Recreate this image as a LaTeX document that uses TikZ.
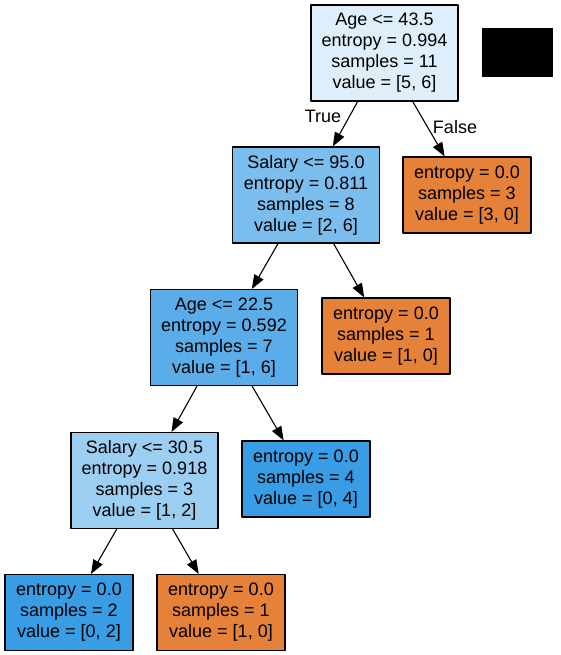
\documentclass[tikz,border=0pt]{standalone}
\usepackage{fontspec}
\setmainfont{Liberation Sans}
\usetikzlibrary{%
	arrows.meta,%
	positioning%
}
\definecolor{splitA}{HTML}{DEEFFB}
\definecolor{splitB}{HTML}{7BBEEE}
\definecolor{splitC}{HTML}{5AADE9}
\definecolor{splitD}{HTML}{9CCEF2}
\definecolor{leafblue}{HTML}{399DE5}
\definecolor{leaforange}{HTML}{E58139}

\begin{document}
\begin{tikzpicture}[
x=1pt,y=-1pt,
>={Triangle[length=14pt,width=10.5pt]},
line width=1.1pt,line join=round,
font=\fontsize{18}{21}\selectfont,
split/.style={rectangle,draw,align=center,inner sep=0pt,
minimum width=147pt,minimum height=96pt},
leaf/.style={rectangle,draw,align=center,inner sep=0pt,
minimum width=128pt,minimum height=76pt},
edgelabel/.style={inner sep=0pt}
]
\useasboundingbox (0,0) rectangle (560,655);

% split nodes
\node [split,fill=splitA] (root)   at (384.5,53)  {Age <= 43.5\\entropy = 0.994\\samples = 11\\value = [5, 6]};
\node [split,fill=splitB] (salA)   at (306,195)   {Salary <= 95.0\\entropy = 0.811\\samples = 8\\value = [2, 6]};
\node [split,fill=splitC] (ageB)   at (224,337.5) {Age <= 22.5\\entropy = 0.592\\samples = 7\\value = [1, 6]};
\node [split,fill=splitD] (salC)   at (144.5,480.5) {Salary <= 30.5\\entropy = 0.918\\samples = 3\\value = [1, 2]};

% leaves
\node [leaf,fill=leaforange] (leafF)  at (467,195)   {entropy = 0.0\\samples = 3\\value = [3, 0]};
\node [leaf,fill=leaforange] (leafS1) at (386,336)   {entropy = 0.0\\samples = 1\\value = [1, 0]};
\node [leaf,fill=leafblue]   (leafS4) at (306,479)   {entropy = 0.0\\samples = 4\\value = [0, 4]};
\node [leaf,fill=leafblue]   (leafL)  at (69,612.5)  {entropy = 0.0\\samples = 2\\value = [0, 2]};
\node [leaf,fill=leaforange] (leafR)  at (221,612.5) {entropy = 0.0\\samples = 1\\value = [1, 0]};

% masked box
\fill (482,28) rectangle (553,77);

% edges
\begin{scope}[->]
\draw (root) -- (salA);
\draw (root) -- (leafF);
\draw (salA) -- (ageB);
\draw (salA) -- (leafS1);
\draw (ageB) -- (salC);
\draw (ageB) -- (leafS4);
\draw (salC) -- (leafL);
\draw (salC) -- (leafR);
\end{scope}

\node [edgelabel] (truelabel)  at (323,116) {True};
\node [edgelabel] (falselabel) at (455,127) {False};
\end{tikzpicture}
\end{document}
